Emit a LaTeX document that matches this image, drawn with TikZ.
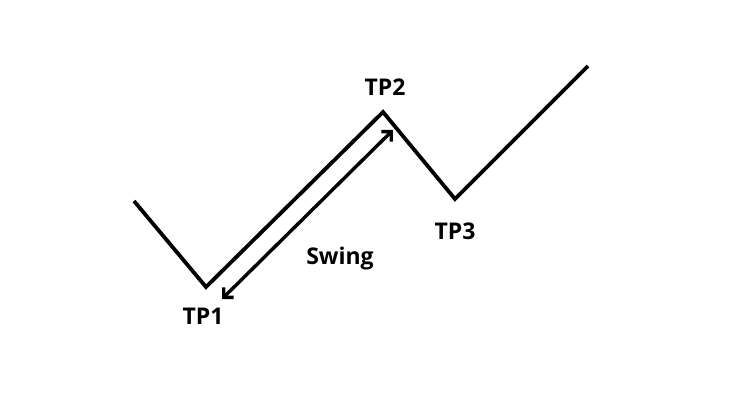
\documentclass[tikz,border=0pt]{standalone}
\usepackage{fontspec}
\setmainfont{Open Sans}
\usetikzlibrary{arrows.meta}
\begin{document}
\begin{tikzpicture}[x=1pt,y=-1pt,
  trend/.style={line width=3.8pt,line join=miter,line cap=butt},
  swingarrow/.style={line width=3.4pt,{Straight Barb[length=7pt,width=14pt,line width=3.4pt]}-{Straight Barb[length=7pt,width=14pt,line width=3.4pt]}},
  lbl/.style={font=\bfseries\fontsize{23}{26}\selectfont,inner sep=0pt}]
\useasboundingbox (0,0) rectangle (753,404);
\fill[white] (0,0) rectangle (753,404);
\coordinate (s) at (134,201);
\coordinate (p1) at (206,287);
\coordinate (p2) at (383,112);
\coordinate (p3) at (455,199);
\coordinate (e) at (588,66);
\draw[trend] (s) -- (p1) -- (p2) -- (p3) -- (e);
\coordinate (a1) at (222,299);
\coordinate (a2) at (393,130);
\draw[swingarrow] (a1) -- (a2);
\node[lbl] (t1) at (203,316) {TP1};
\node[lbl] (t2) at (385,87) {TP2};
\node[lbl] (t3) at (455,231) {TP3};
\node[lbl] (sw) at (340,259) {Swing};
\end{tikzpicture}
\end{document}
